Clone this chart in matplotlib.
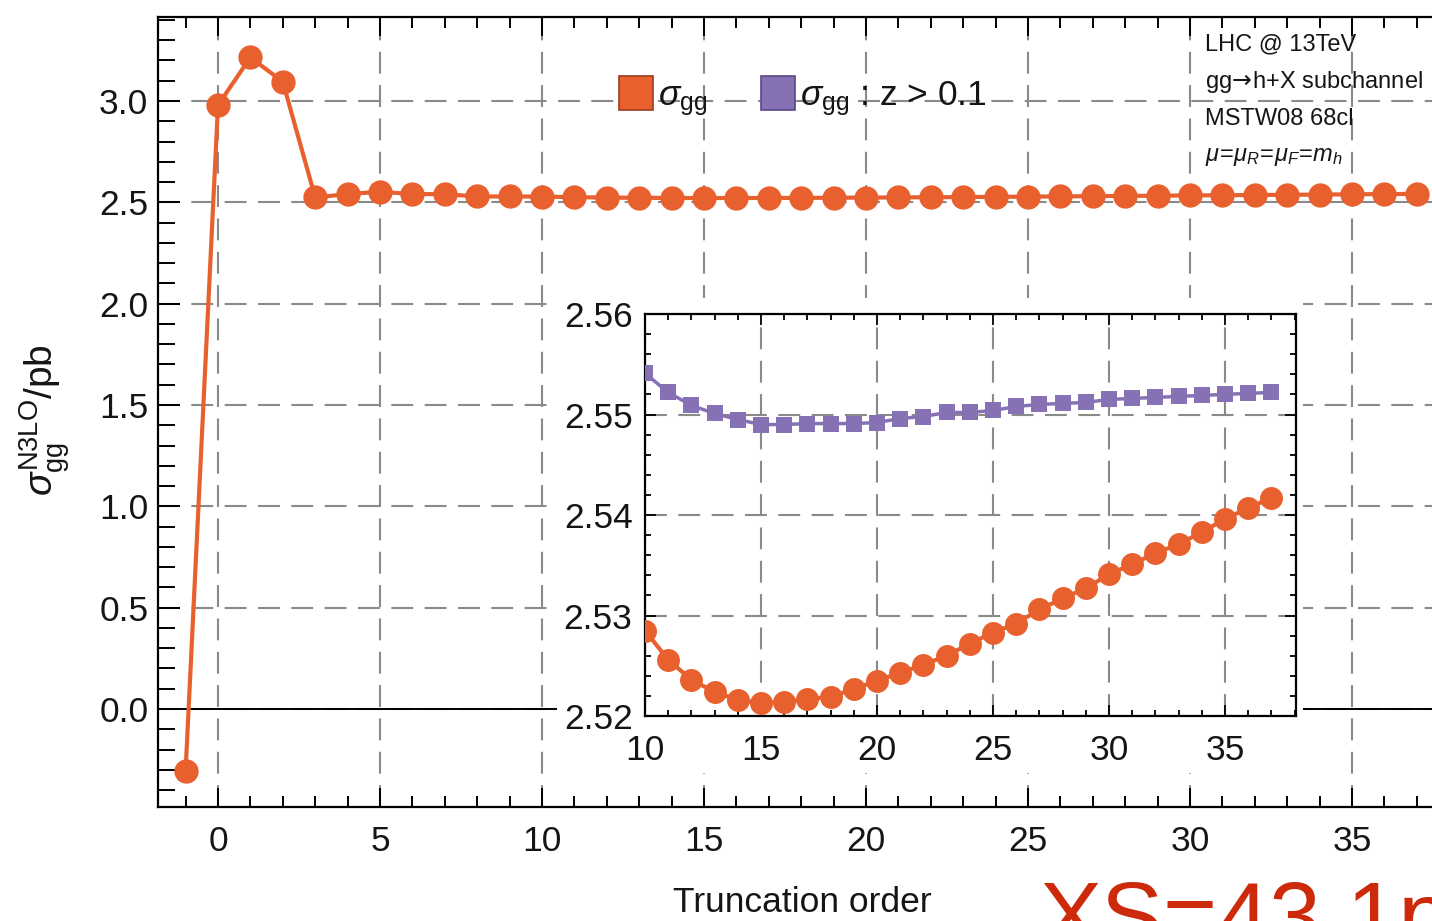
import matplotlib
matplotlib.use("Agg")
import matplotlib.pyplot as plt
from matplotlib.lines import Line2D
from matplotlib.patches import Rectangle
from matplotlib.ticker import MultipleLocator

plt.rcParams['font.family'] = ['Liberation Sans', 'DejaVu Sans']
plt.rcParams['mathtext.fontset'] = 'custom'
plt.rcParams['mathtext.rm'] = 'Liberation Sans'
plt.rcParams['mathtext.it'] = 'Liberation Sans:italic'
plt.rcParams['mathtext.bf'] = 'Liberation Sans:bold'
plt.rcParams['mathtext.sf'] = 'DejaVu Sans'

# ---------------- data ----------------
orders_low = [-1, 0, 1, 2, 3, 4, 5, 6, 7, 8, 9]
sigma_low = [-0.305, 2.98, 3.215, 3.095, 2.524, 2.541, 2.552, 2.541, 2.540, 2.529, 2.529]

orders_high = list(range(10, 38))
sigma_gg = [2.5285, 2.5256, 2.5236, 2.5224, 2.5216, 2.5213, 2.5214, 2.5217, 2.5219, 2.5227,
            2.5235, 2.5243, 2.5251, 2.5260, 2.5272, 2.5283, 2.5292, 2.5306, 2.5317, 2.5327,
            2.5341, 2.5351, 2.5362, 2.5371, 2.5383, 2.5396, 2.5407, 2.5417]
sigma_gg_z = [2.5541, 2.5522, 2.5509, 2.5501, 2.5495, 2.5490, 2.5490, 2.5491, 2.5491, 2.5491,
              2.5492, 2.5496, 2.5498, 2.5502, 2.5502, 2.5504, 2.5508, 2.5510, 2.5511, 2.5512,
              2.5515, 2.5516, 2.5517, 2.5518, 2.5519, 2.5520, 2.5521, 2.5522]

main_xticks = [0, 5, 10, 15, 20, 25, 30, 35]
main_yticks = [0.0, 0.5, 1.0, 1.5, 2.0, 2.5, 3.0]
inset_xticks = [10, 15, 20, 25, 30, 35]
inset_yticks = [2.52, 2.53, 2.54, 2.55, 2.56]

info_lines = ["LHC @ 13TeV", r"gg$\!\mathsf{\rightarrow}\!$h+X subchannel", "MSTW08 68cl",
              r"$\mu\!=\!\mu_R\!=\!\mu_F\!=\!m_h$"]

ORANGE = '#E8602E'
ORANGE_EDGE = '#9C3C1C'
PURPLE = '#8671B5'
PURPLE_EDGE = '#5A4A85'
GRID = '#8a8a8a'
TXT = '#151515'

W, H = 1432, 921
fig = plt.figure(figsize=(W / 100, H / 100), dpi=100)

def fx(px):
    return px / W

def fy(py):
    return 1 - py / H

# ---------------- main axes ----------------
ax = fig.add_axes([fx(158), fy(807), fx(W - 158), (807 - 17) / H])
ax.set_xlim(-1.852, 37.47)
ax.set_ylim(-0.4835, 3.4145)

all_x = orders_low + orders_high
all_y = sigma_low + sigma_gg
ax.plot(all_x, all_y, color=ORANGE, lw=3.0, marker='o', ms=17.5,
        markeredgewidth=0, zorder=4, clip_on=False)
ax.axhline(0.0, color='black', lw=1.4, zorder=3)

ax.set_xticks(main_xticks)
ax.set_yticks(main_yticks)
ax.set_yticklabels([f"{v:.1f}" for v in main_yticks])
ax.xaxis.set_minor_locator(MultipleLocator(1))
ax.yaxis.set_minor_locator(MultipleLocator(0.1))
ax.grid(True, which='major', color=GRID, lw=1.5, linestyle=(0, (10.5, 5.5)), zorder=1)
ax.set_axisbelow(True)
ax.tick_params(axis='both', which='both', direction='in', top=True, right=False,
               colors='black', labelcolor=TXT, width=1.4, labelsize=25.5)
ax.tick_params(axis='x', which='major', length=14, pad=13)
ax.tick_params(axis='x', which='minor', length=8)
ax.tick_params(axis='y', which='major', length=16, pad=7)
ax.tick_params(axis='y', which='minor', length=12)
for s in ['left', 'bottom', 'top']:
    ax.spines[s].set_linewidth(1.6)
ax.spines['right'].set_visible(False)

# legend
handles = [Line2D([], [], ls='', marker='s', ms=24, mfc=ORANGE, mec=ORANGE_EDGE, mew=1.2),
           Line2D([], [], ls='', marker='s', ms=24, mfc=PURPLE, mec=PURPLE_EDGE, mew=1.2)]
labels = [r"$\sigma_{\rm gg}$", r"$\sigma_{\rm gg}$ : z > 0.1"]
ax.legend(handles, labels, loc='center left', bbox_to_anchor=(fx(618), fy(99)),
          bbox_transform=fig.transFigure, ncol=2, frameon=False, fontsize=25.5,
          handlelength=1.0, handletextpad=0.12, columnspacing=1.5, borderpad=0,
          borderaxespad=0, labelcolor=TXT)

# white backing for inset (covers inset labels region)
ax.add_patch(Rectangle((fx(557), fy(773)), fx(1303 - 557), (773 - 298) / H,
                       transform=fig.transFigure, facecolor='white', edgecolor='none',
                       zorder=10, clip_on=False))

# info text
for i, line in enumerate(info_lines):
    fig.text(fx(1205), fy(44 + i * 37.7), line, fontsize=17, color=TXT,
             ha='left', va='center')

# axis labels
fig.text(fx(45), fy(420), r"$\sigma_{\rm gg}^{\rm N3LO}$/pb", rotation=90,
         fontsize=28, color=TXT, ha='center', va='center')
fig.text(fx(802), fy(902), "Truncation order", fontsize=25.5, color=TXT,
         ha='center', va='center')

# red overlay text (cut off at the bottom, as in the original)
fig.text(fx(1040), fy(880), "XS=43.1pb", fontsize=67, color='#CC2A0A',
         ha='left', va='top')

# ---------------- inset ----------------
ins = fig.add_axes([fx(645), fy(716), fx(1296 - 645), (716 - 314) / H])
ins.set_facecolor('white')
ins.set_xlim(10, 38.06)
ins.set_ylim(2.52, 2.56)
ins.plot(orders_high, sigma_gg, color=ORANGE, lw=3.0, marker='o', ms=16.5,
         markeredgewidth=0, zorder=4)
ins.plot(orders_high, sigma_gg_z, color=PURPLE, lw=2.5, marker='s', ms=11.5,
         markeredgewidth=0, zorder=4)
ins.set_xticks(inset_xticks)
ins.set_yticks(inset_yticks)
ins.set_yticklabels([f"{v:.2f}" for v in inset_yticks])
ins.xaxis.set_minor_locator(MultipleLocator(1))
ins.yaxis.set_minor_locator(MultipleLocator(0.002))
ins.grid(True, which='major', color=GRID, lw=1.5, linestyle=(0, (10.5, 5.5)), zorder=1)
ins.set_axisbelow(True)
ins.tick_params(axis='both', which='both', direction='in', top=True, right=True,
                colors='black', labelcolor=TXT, width=1.3, labelsize=25.5)
ins.tick_params(axis='both', which='major', length=8)
ins.tick_params(axis='both', which='minor', length=4.5)
ins.tick_params(axis='x', which='major', pad=13)
ins.tick_params(axis='y', which='major', pad=9)
for s in ins.spines.values():
    s.set_linewidth(1.6)

fig.savefig("out.png", dpi=100)
